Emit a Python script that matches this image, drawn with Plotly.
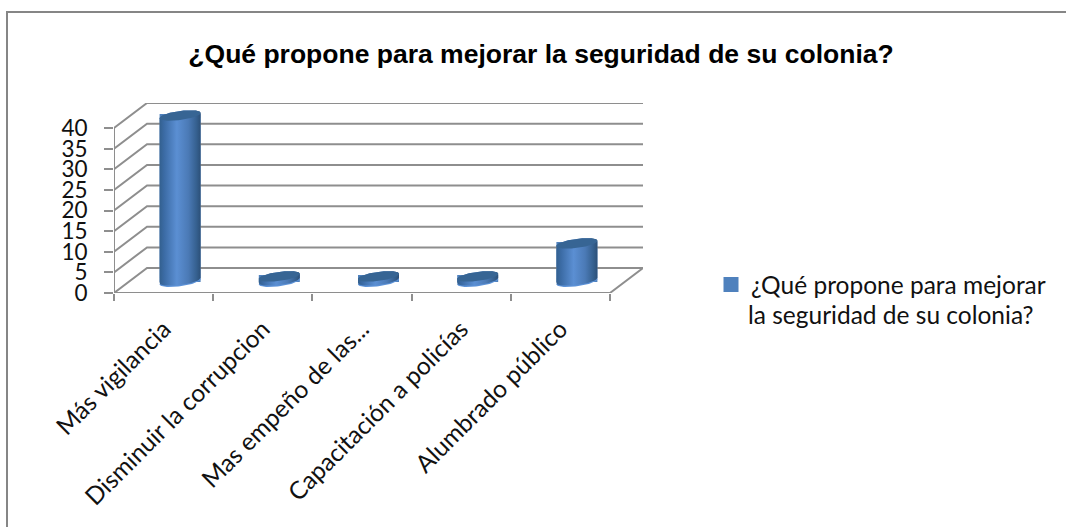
import numpy as np
import plotly.graph_objects as go

categories = ["Más vigilancia", "Disminuir la corrupcion", "Mas empeño de las...",
              "Capacitación a policías", "Alumbrado público"]
values = [40, 1, 1, 1, 9]
y_ticks = [0, 5, 10, 15, 20, 25, 30, 35, 40]
title_text = "¿Qué propone para mejorar la seguridad de su colonia?"
legend_line1 = "¿Qué propone para mejorar"
legend_line2 = "la seguridad de su colonia?"

W, H = 1066, 527
L, R, T, B = 114, 643, 103, 293
DEPTH_X = 33 / 99.2
DEPTH_Y = 25 / 4.125
XMIN, XMAX = -0.5, 4.5 + DEPTH_X
YMIN, YMAX = 0, 40 + DEPTH_Y
px_x = (XMAX - XMIN) / (R - L)
px_y = (YMAX - YMIN) / (B - T)

def paper_x(px):
    return (px - L) / (R - L)

def paper_y(px):
    return 1 - (px - T) / (B - T)

GRID = "#8e8e8e"
BLUE = "#4f81bd"
TOP = "#376594"
RIM = "#5c92d8"
GRAD = [[0, "#33608f"], [0.12, "#3c6ca6"], [0.42, "#5b8fd3"], [0.7, "#4b7ab6"], [0.9, "#35608f"], [1, "#2c5078"]]

fig = go.Figure()

lx, ly = [], []
for v in y_ticks:
    lx += [XMIN, XMIN + DEPTH_X, XMAX, None]
    ly += [v, v + DEPTH_Y, v + DEPTH_Y, None]
lx += [XMIN, XMIN, None, XMIN, XMAX - DEPTH_X, XMAX, None]
ly += [0, 40, None, 0, 0, DEPTH_Y, None]
fig.add_trace(go.Scatter(x=lx, y=ly, mode="lines", line=dict(color=GRID, width=2),
                         showlegend=False, hoverinfo="skip", cliponaxis=False))

a = 20.5 * px_x
fig.add_trace(go.Bar(x=[i + DEPTH_X / 2 for i in range(len(values))], y=values,
                     base=DEPTH_Y / 2, width=2 * a - 3 * px_x,
                     marker=dict(color=BLUE, line=dict(width=3, color=BLUE)),
                     name=legend_line1, hoverinfo="skip"))

t = np.linspace(0, 2 * np.pi, 73)
b = 4.6 * px_y
tilt = 2.6 * px_y
for i, v in enumerate(values):
    cx = i + DEPTH_X / 2
    y0 = DEPTH_Y / 2
    ex = cx + a * np.cos(t)
    es = b * np.sin(t) + tilt * np.cos(t)
    fig.add_trace(go.Scatter(x=ex.tolist(), y=(y0 - 0.3 + es).tolist(), fill="toself", mode="lines",
                             fillcolor=RIM, line=dict(width=0), showlegend=False, hoverinfo="skip", cliponaxis=False))
    sx = ex[36:].tolist() + ex[:37].tolist()
    sy = (y0 + es[36:]).tolist() + (y0 + v + es[:37]).tolist()
    fig.add_trace(go.Scatter(x=sx, y=sy, fill="toself", mode="lines", line=dict(width=0),
                             fillgradient=dict(type="horizontal", colorscale=GRAD, start=cx - a, stop=cx + a),
                             showlegend=False, hoverinfo="skip", cliponaxis=False))
    fig.add_trace(go.Scatter(x=ex.tolist(), y=(y0 + v + es).tolist(), fill="toself", mode="lines",
                             fillcolor=TOP, line=dict(width=0), showlegend=False, hoverinfo="skip", cliponaxis=False))

fig.update_layout(
    width=W, height=H, autosize=False,
    margin=dict(l=L, r=W - R, t=T, b=H - B, autoexpand=False),
    paper_bgcolor="white", plot_bgcolor="white",
    font=dict(family="Lato, sans-serif", color="#111111"),
    barmode="overlay",
    title=dict(text="<b>" + title_text + "</b>", x=541 / W, xanchor="center", y=1 - 54 / H, yanchor="middle",
               font=dict(family="Liberation Sans", size=26.5, color="#000000")),
    xaxis=dict(range=[XMIN, XMAX], tickmode="array", tickvals=list(range(len(categories))), ticktext=categories,
               tickangle=-45, tickfont=dict(size=24.5), ticks="", showgrid=False, zeroline=False, showline=False,
               ticklabelstandoff=16, automargin=False,
               minor=dict(tickmode="array", tickvals=[i - 0.5 for i in range(len(categories) + 1)],
                          ticks="outside", ticklen=7, tickwidth=2, tickcolor=GRID, showgrid=False)),
    yaxis=dict(range=[YMIN, YMAX], tickmode="array", tickvals=y_ticks, ticks="outside", ticklen=9, tickwidth=2,
               tickcolor=GRID, tickfont=dict(size=22.5), ticklabelstandoff=12, showgrid=False, zeroline=False,
               showline=False, automargin=False),
    legend=dict(x=paper_x(711), y=paper_y(262), xref="paper", yref="paper", xanchor="left", yanchor="top",
                font=dict(size=24.5), bgcolor="rgba(0,0,0,0)", itemwidth=30),
    annotations=[dict(text=legend_line2, xref="paper", yref="paper", x=paper_x(746), y=paper_y(314),
                      xanchor="left", yanchor="middle", showarrow=False, font=dict(size=24.5))],
    shapes=[dict(type="path", xref="paper", yref="paper",
                 path=f"M {paper_x(7)},{paper_y(H + 5)} L {paper_x(7)},{paper_y(12)} L {paper_x(W + 5)},{paper_y(12)}",
                 line=dict(color="#868686", width=2), layer="below")],
)
fig.write_html("out.html", post_script="document.body.style.margin='0';", config=dict(displayModeBar=False))
